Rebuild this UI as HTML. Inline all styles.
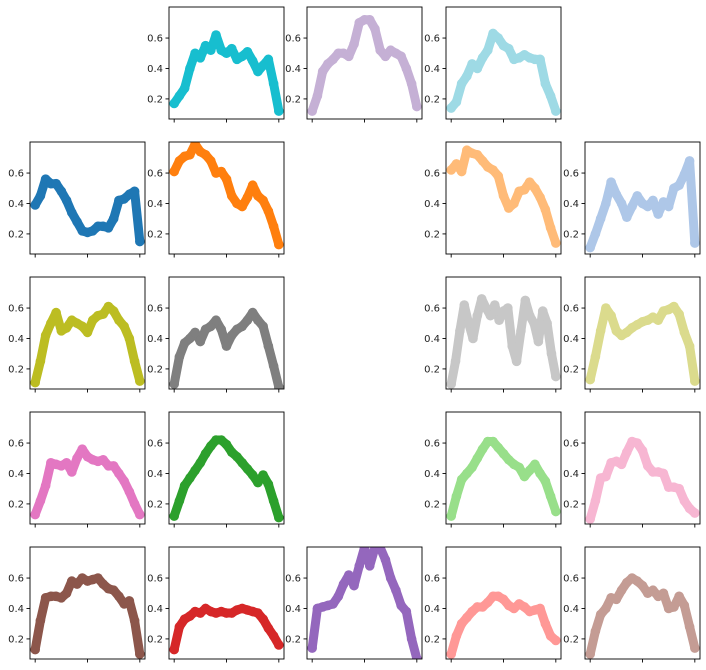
<!DOCTYPE html>
<html><head><meta charset="utf-8"><style>
body{margin:0;background:#fff;}
svg{display:block;}
text{font-family:"DejaVu Sans","Liberation Sans",sans-serif;font-size:10px;fill:#222;}
</style></head><body>
<svg id="fig" width="706" height="670" viewBox="0 0 706 670" xmlns="http://www.w3.org/2000/svg"></svg>
<script>
const yTicks = [0.2, 0.4, 0.6];
const yTickLabels = ["0.2", "0.4", "0.6"];
const xTicks = [0, 0.5, 1];
const yMin = 0.068, yMax = 0.804;

const cyanVals = [0.17,0.22,0.27,0.40,0.50,0.47,0.55,0.52,0.62,0.52,0.50,0.53,0.46,0.48,0.51,0.45,0.38,0.42,0.46,0.30,0.12];
const lilacVals = [0.12,0.22,0.38,0.43,0.46,0.50,0.50,0.48,0.56,0.70,0.72,0.72,0.66,0.52,0.48,0.52,0.50,0.48,0.40,0.30,0.15];
const lightCyanVals = [0.14,0.18,0.30,0.35,0.43,0.40,0.47,0.52,0.63,0.60,0.55,0.53,0.46,0.47,0.49,0.47,0.46,0.46,0.30,0.22,0.12];
const blueVals = [0.39,0.45,0.56,0.53,0.53,0.48,0.42,0.34,0.28,0.22,0.21,0.22,0.25,0.25,0.24,0.30,0.42,0.43,0.46,0.48,0.15];
const orangeVals = [0.61,0.68,0.71,0.72,0.79,0.74,0.72,0.68,0.60,0.61,0.56,0.45,0.40,0.38,0.44,0.52,0.45,0.42,0.35,0.25,0.13];
const lightOrangeVals = [0.62,0.66,0.61,0.75,0.73,0.72,0.68,0.64,0.62,0.58,0.45,0.37,0.40,0.48,0.49,0.54,0.50,0.44,0.36,0.24,0.14];
const lightBlueVals = [0.11,0.20,0.30,0.40,0.54,0.46,0.40,0.31,0.38,0.45,0.40,0.38,0.42,0.33,0.41,0.38,0.50,0.52,0.59,0.68,0.14];
const oliveVals = [0.11,0.25,0.42,0.50,0.57,0.45,0.47,0.52,0.50,0.48,0.44,0.52,0.55,0.56,0.61,0.58,0.52,0.48,0.40,0.25,0.12];
const grayVals = [0.10,0.28,0.37,0.40,0.44,0.38,0.46,0.48,0.52,0.46,0.35,0.42,0.46,0.48,0.52,0.57,0.52,0.48,0.35,0.22,0.08];
const lightGrayVals = [0.10,0.25,0.45,0.62,0.50,0.40,0.55,0.66,0.60,0.55,0.62,0.52,0.58,0.60,0.35,0.25,0.45,0.65,0.55,0.50,0.38,0.58,0.50,0.30,0.15];
const khakiVals = [0.13,0.28,0.45,0.60,0.55,0.45,0.42,0.44,0.47,0.49,0.51,0.52,0.54,0.52,0.58,0.59,0.61,0.56,0.44,0.35,0.12];
const pinkVals = [0.13,0.22,0.32,0.47,0.46,0.45,0.47,0.41,0.50,0.56,0.51,0.49,0.48,0.49,0.45,0.45,0.40,0.35,0.28,0.20,0.13];
const greenVals = [0.12,0.22,0.32,0.37,0.42,0.47,0.53,0.58,0.62,0.62,0.59,0.54,0.51,0.47,0.43,0.39,0.34,0.39,0.33,0.22,0.11];
const lightGreenVals = [0.12,0.25,0.36,0.40,0.44,0.50,0.56,0.61,0.61,0.57,0.53,0.49,0.46,0.44,0.38,0.42,0.46,0.40,0.35,0.25,0.15];
const lightPinkVals = [0.10,0.22,0.37,0.38,0.47,0.48,0.46,0.54,0.61,0.60,0.55,0.45,0.41,0.41,0.40,0.31,0.31,0.30,0.22,0.17,0.14];
const brownVals = [0.13,0.32,0.47,0.48,0.48,0.47,0.50,0.58,0.56,0.60,0.58,0.59,0.60,0.56,0.53,0.52,0.48,0.43,0.45,0.32,0.10];
const redVals = [0.13,0.28,0.33,0.35,0.38,0.37,0.40,0.38,0.37,0.38,0.37,0.37,0.39,0.40,0.39,0.38,0.37,0.33,0.27,0.22,0.16];
const purpleVals = [0.14,0.40,0.41,0.42,0.43,0.48,0.56,0.62,0.55,0.68,0.80,0.68,0.80,0.80,0.72,0.60,0.52,0.42,0.38,0.20,0.07];
const salmonVals = [0.10,0.22,0.30,0.34,0.38,0.41,0.41,0.44,0.48,0.48,0.46,0.42,0.40,0.43,0.41,0.38,0.39,0.40,0.30,0.22,0.19];
const rosyVals = [0.10,0.25,0.36,0.40,0.47,0.46,0.52,0.57,0.60,0.58,0.55,0.50,0.52,0.48,0.50,0.40,0.41,0.48,0.42,0.28,0.14];

const panels = [
 {r:0,c:1,color:"#17becf",vals:cyanVals,name:"cyan"},
 {r:0,c:2,color:"#c5b0d5",vals:lilacVals,name:"lilac"},
 {r:0,c:3,color:"#9edae5",vals:lightCyanVals,name:"light-cyan"},
 {r:1,c:0,color:"#1f77b4",vals:blueVals,name:"blue"},
 {r:1,c:1,color:"#ff7f0e",vals:orangeVals,name:"orange"},
 {r:1,c:3,color:"#ffbb78",vals:lightOrangeVals,name:"light-orange"},
 {r:1,c:4,color:"#aec7e8",vals:lightBlueVals,name:"light-blue"},
 {r:2,c:0,color:"#bcbd22",vals:oliveVals,name:"olive"},
 {r:2,c:1,color:"#7f7f7f",vals:grayVals,name:"gray"},
 {r:2,c:3,color:"#c7c7c7",vals:lightGrayVals,name:"light-gray"},
 {r:2,c:4,color:"#dbdb8d",vals:khakiVals,name:"khaki"},
 {r:3,c:0,color:"#e377c2",vals:pinkVals,name:"pink"},
 {r:3,c:1,color:"#2ca02c",vals:greenVals,name:"green"},
 {r:3,c:3,color:"#98df8a",vals:lightGreenVals,name:"light-green"},
 {r:3,c:4,color:"#f7b6d2",vals:lightPinkVals,name:"light-pink"},
 {r:4,c:0,color:"#8c564b",vals:brownVals,name:"brown"},
 {r:4,c:1,color:"#d62728",vals:redVals,name:"red"},
 {r:4,c:2,color:"#9467bd",vals:purpleVals,name:"purple"},
 {r:4,c:3,color:"#ff9896",vals:salmonVals,name:"salmon"},
 {r:4,c:4,color:"#c49c94",vals:rosyVals,name:"rosy"}
];

const colLeft = [30,169,307,446,585];
const rowTop = [7,142,277,412,547];
const PW = 115, PH = 112;
const NS = "http://www.w3.org/2000/svg";
const svg = document.getElementById('fig');
function mk(tag, attrs, parent){
  const e = document.createElementNS(NS, tag);
  for (const k in attrs) e.setAttribute(k, attrs[k]);
  parent.appendChild(e);
  return e;
}
const defs = mk('defs', {}, svg);

panels.forEach((p, i) => {
  const L = colLeft[p.c], T = rowTop[p.r];
  const xs = v => L + PW*0.045 + v*PW*0.91;
  const ys = v => T + PH - (v - yMin)/(yMax - yMin)*PH;
  const g = mk('g', {}, svg);
  
  
  const cp = mk('clipPath', {id:'cp'+i}, defs);
  mk('rect', {x:L, y:T, width:PW, height:PH}, cp);
  const sg = mk('g', {'clip-path':'url(#cp'+i+')'}, g);
  const n = p.vals.length;
  const pts = p.vals.map((v, j) => xs(j/(n-1)) + ',' + ys(v)).join(' ');
  const line = mk('polyline', {points:pts, fill:'none', stroke:p.color, 'stroke-width':9, 'stroke-linejoin':'round', 'stroke-linecap':'round'}, sg);
  
  
  p.vals.forEach((v, j) => {
    const c = mk('circle', {cx:xs(j/(n-1)), cy:ys(v), r:4.8, fill:p.color}, sg);
    
    
  });
  const frame = mk('rect', {x:L, y:T, width:PW, height:PH, fill:'none', stroke:'#000', 'stroke-width':0.9}, g);
  
  
  yTicks.forEach((t, k) => {
    const y = ys(t);
    mk('line', {x1:L-3.5, x2:L, y1:y, y2:y, stroke:'#000', 'stroke-width':0.9}, g);
    const tx = mk('text', {x:L-6, y:y+3.5, 'text-anchor':'end'}, g);
    tx.textContent = yTickLabels[k];
    
    
  });
  xTicks.forEach(t => {
    const x = xs(t);
    mk('line', {x1:x, x2:x, y1:T+PH, y2:T+PH+3.5, stroke:'#000', 'stroke-width':0.9}, g);
  });
});
</script>
</body></html>
